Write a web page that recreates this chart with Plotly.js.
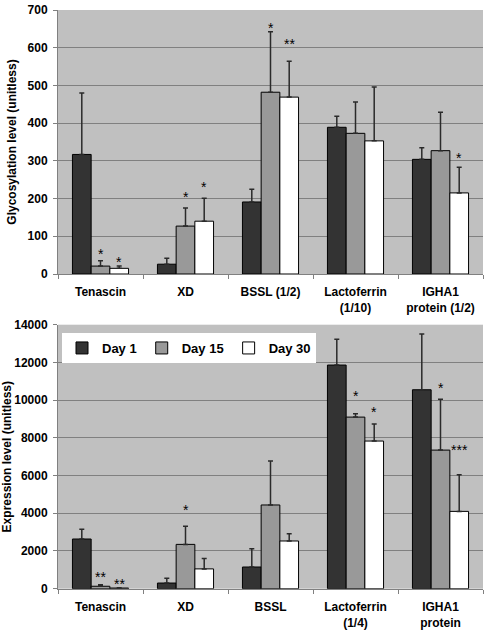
<!DOCTYPE html>
<html>
<head>
<meta charset="utf-8">
<script src="https://cdn.plot.ly/plotly-3.0.1.min.js"></script>
<style>html,body{margin:0;padding:0;background:#fff;}#chart{width:486px;height:631px;}</style>
</head>
<body>
<div id="chart"></div>
<script>
// ---- Data ----
const seriesNames = ['Day 1', 'Day 15', 'Day 30'];

const glyCategories = ['Tenascin', 'XD', 'BSSL (1/2)', 'Lactoferrin<br>(1/10)', 'IGHA1<br>protein (1/2)'];
const glyDay1 = [317, 26, 191, 389, 304];
const glyDay1Err = [163, 16, 34, 29, 31];
const glyDay15 = [21, 127, 482, 373, 327];
const glyDay15Err = [14, 48, 160, 83, 102];
const glyDay30 = [15, 140, 469, 353, 215];
const glyDay30Err = [6, 61, 95, 143, 68];
const glyStars15 = ['*', '*', '*', '', ''];
const glyStars15Y = [60, 212, 661, null, null];
const glyStars30 = ['*', '*', '**', '', '*'];
const glyStars30Y = [41, 239, 617, null, 316];

const expCategories = ['Tenascin', 'XD', 'BSSL', 'Lactoferrin<br>(1/4)', 'IGHA1<br>protein'];
const expDay1 = [2635, 300, 1150, 11860, 10550];
const expDay1Err = [515, 249, 971, 1363, 2955];
const expDay15 = [130, 2350, 4440, 9100, 7350];
const expDay15Err = [82, 960, 2330, 180, 2690];
const expDay30 = [35, 1050, 2530, 7830, 4100];
const expDay30Err = [18, 550, 387, 900, 1945];
const expStars15 = ['**', '*', '', '*', '*'];
const expStars15Y = [760, 4336, null, 10394, 10818];
const expStars30 = ['**', '', '', '*', '***'];
const expStars30Y = [400, null, null, 9510, 7530];

// ---- Styling ----
const FONT = 'Arial, "Liberation Sans", sans-serif';
const fills = ['#333333', '#999999', '#ffffff'];
const errColor = '#2a2a2a';

function barTrace(cats, vals, errs, i, xa, ya, showLegend) {
  return {
    type: 'bar', x: cats, y: vals, name: seriesNames[i],
    xaxis: xa, yaxis: ya, showlegend: showLegend, legendgroup: seriesNames[i],
    marker: {color: fills[i], line: {color: '#000000', width: 1}},
    error_y: {type: 'data', array: errs, symmetric: false, arrayminus: errs.map(() => 0),
              color: errColor, thickness: 1.5, width: 2.5},
    hoverinfo: 'skip'
  };
}

const data = [
  barTrace(glyCategories, glyDay1, glyDay1Err, 0, 'x', 'y', false),
  barTrace(glyCategories, glyDay15, glyDay15Err, 1, 'x', 'y', false),
  barTrace(glyCategories, glyDay30, glyDay30Err, 2, 'x', 'y', false),
  barTrace(expCategories, expDay1, expDay1Err, 0, 'x2', 'y2', true),
  barTrace(expCategories, expDay15, expDay15Err, 1, 'x2', 'y2', true),
  barTrace(expCategories, expDay30, expDay30Err, 2, 'x2', 'y2', true)
];

const offset = 0.22;
const annotations = [];
function addStars(labels, ys, barIndex, xref, yref) {
  labels.forEach((t, k) => {
    if (!t) return;
    annotations.push({
      xref: xref, yref: yref, x: k + (barIndex - 1) * offset, y: ys[k],
      text: t, showarrow: false, yanchor: 'middle', xanchor: 'center', yshift: -3,
      font: {family: FONT, size: 14, color: '#000'}
    });
  });
}
addStars(glyStars15, glyStars15Y, 1, 'x', 'y');
addStars(glyStars30, glyStars30Y, 2, 'x', 'y');
addStars(expStars15, expStars15Y, 1, 'x2', 'y2');
addStars(expStars30, expStars30Y, 2, 'x2', 'y2');

const W = 486, H = 631;
const xDom = [58 / W, 483 / W];
const commonX = {
  type: 'category', domain: xDom, showgrid: false,
  ticks: 'outside', tickson: 'boundaries', ticklen: 4, tickcolor: '#808080',
  showline: true, linecolor: '#808080', linewidth: 1, ticklabelstandoff: 7,
  tickfont: {family: FONT, size: 12, color: '#000', weight: 'bold'}
};
const commonY = {
  showgrid: true, gridcolor: '#808080', gridwidth: 1,
  ticks: 'outside', ticklen: 4, tickcolor: '#808080', tickformat: 'd', ticklabelstandoff: 3,
  showline: true, linecolor: '#808080', linewidth: 1, zeroline: false,
  tickfont: {family: FONT, size: 12, color: '#000', weight: 'bold'}
};

const layout = {
  width: W, height: H,
  margin: {l: 0, r: 0, t: 0, b: 0},
  paper_bgcolor: '#ffffff', plot_bgcolor: '#c0c0c0',
  barmode: 'group', bargap: 0.34, bargroupgap: 0,
  font: {family: FONT, color: '#000'},
  xaxis: Object.assign({}, commonX, {anchor: 'y'}),
  yaxis: Object.assign({}, commonY, {
    anchor: 'x', domain: [1 - 274 / H, 1 - 10 / H], range: [0, 700], dtick: 100,
    title: {text: 'Glycosylation level (unitless)', font: {family: FONT, size: 12, color: '#000', weight: 'bold'}, standoff: 8}
  }),
  xaxis2: Object.assign({}, commonX, {anchor: 'y2'}),
  yaxis2: Object.assign({}, commonY, {
    anchor: 'x2', domain: [1 - 588.7 / H, 1 - 324.7 / H], range: [0, 14000], dtick: 2000,
    title: {text: 'Expression level (unitless)', font: {family: FONT, size: 12, color: '#000', weight: 'bold'}, standoff: 3}
  }),
  legend: {
    orientation: 'h', x: 62 / W, y: 1 - 333 / H, xanchor: 'left', yanchor: 'top',
    bgcolor: '#ffffff', borderwidth: 0, traceorder: 'normal',
    font: {family: FONT, size: 13, color: '#000', weight: 'bold'},
    itemwidth: 30, tracegroupgap: 0
  },
  annotations: annotations
};

Plotly.newPlot('chart', data, layout, {displayModeBar: false, staticPlot: true});
</script>
</body>
</html>
